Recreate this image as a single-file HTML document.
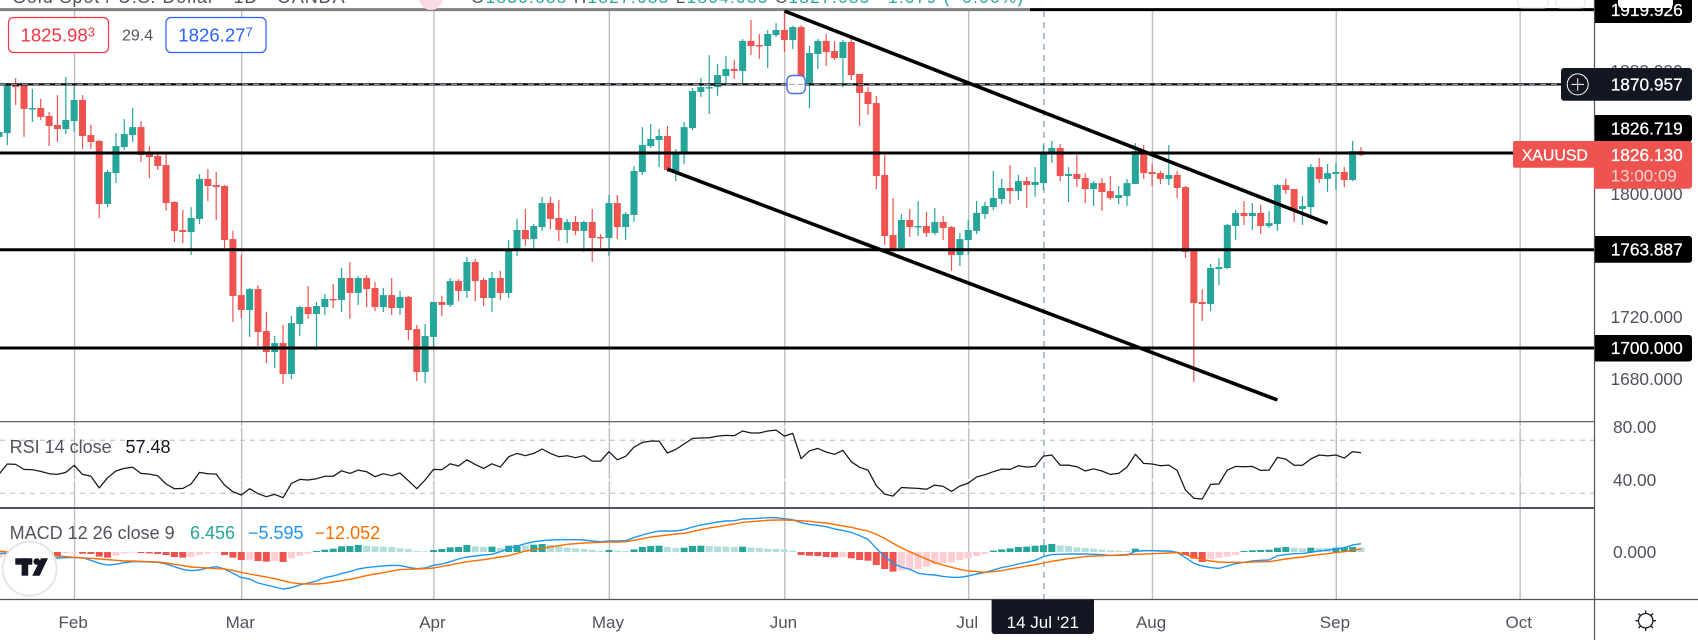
<!DOCTYPE html>
<html lang="en">
<head>
<meta charset="utf-8">
<title>XAUUSD Daily Chart</title>
<style>
html,body{margin:0;padding:0;background:#fff;width:1698px;height:640px;overflow:hidden}
svg{display:block;font-family:"Liberation Sans",sans-serif}
</style>
</head>
<body>
<svg id="chart" xmlns="http://www.w3.org/2000/svg" width="1698" height="640" viewBox="0 0 1698 640">
<rect x="0" y="0" width="1698" height="640" fill="#ffffff"/>
<g id="gridLayer"></g>
<g id="candleLayer"></g>
<g id="rsiLayer"></g>
<g id="macdLayer"></g>
<g id="drawLayer"></g>

<line x1="0" y1="421.7" x2="1594.5" y2="421.7" stroke="#50535e" stroke-width="1.2"/>
<line x1="0" y1="508" x2="1594.5" y2="508" stroke="#50535e" stroke-width="2"/>
<line x1="0" y1="599.5" x2="1698" y2="599.5" stroke="#50535e" stroke-width="1.2"/>
<line x1="1594.5" y1="0" x2="1594.5" y2="640" stroke="#50535e" stroke-width="1.2"/>

<g id="axisLayer"></g>

<text x="12" y="3" font-size="18" letter-spacing="0.9" fill="#50535e">Gold Spot / U.S. Dollar · 1D · OANDA</text>
<circle cx="431" cy="-2" r="12" fill="#fbdce0"/>
<text x="471" y="3" font-size="17" fill="#26a69a" textLength="552"><tspan fill="#50535e">O</tspan>1830.685 <tspan fill="#50535e">H</tspan>1827.085 <tspan fill="#50535e">L</tspan>1804.085 <tspan fill="#50535e">C</tspan>1827.085 −1.079 (−0.06%)</text>

<g>
  <rect x="8.5" y="17.5" width="100" height="35" rx="5" fill="#fff" stroke="#f23645" stroke-width="1.2"/>
  <text x="20.5" y="41.5" font-size="18.6" fill="#f23645">1825.98<tspan font-size="13" dy="-5">3</tspan></text>
</g>
<text x="122" y="40.5" font-size="16" fill="#50535e">29.4</text>
<g>
  <rect x="166" y="17.5" width="100" height="35" rx="5" fill="#fff" stroke="#2962ff" stroke-width="1.2"/>
  <text x="178.3" y="41.5" font-size="18.6" fill="#2962ff">1826.27<tspan font-size="13" dy="-5">7</tspan></text>
</g>

<text x="9.6" y="453" font-size="18" fill="#50535e">RSI 14 close</text>
<text x="125.5" y="453" font-size="18" fill="#131722">57.48</text>

<text x="9.6" y="539" font-size="18" fill="#50535e">MACD 12 26 close 9</text>
<text x="190" y="539" font-size="18" fill="#26a69a">6.456</text>
<text x="248" y="539" font-size="18" fill="#2196f3">−5.595</text>
<text x="314.6" y="539" font-size="18" fill="#ff6d00">−12.052</text>

<g>
  <circle cx="29.6" cy="568.7" r="27" fill="#ffffff" stroke="#e6e6e6" stroke-width="2"/>
  <rect x="15.3" y="558.3" width="17" height="6.4" fill="#131722"/>
  <rect x="21.6" y="558.3" width="6.6" height="17.4" fill="#131722"/>
  <circle cx="36.8" cy="561.6" r="3.3" fill="#131722"/>
  <polygon points="41,558.3 48,558.3 39.6,575.7 32.2,575.7" fill="#131722"/>
</g>

<g>
  <rect x="1518" y="-10" width="30" height="18" rx="4" fill="#fff" stroke="#e0e3eb"/>
  <rect x="1556" y="-10" width="29" height="18" rx="4" fill="#fff" stroke="#e0e3eb"/>
</g>

<g id="labelLayer"></g>

<g>
  <path d="M991.6 599.5H1094V631a3 3 0 0 1-3 3H994.6a3 3 0 0 1-3-3Z" fill="#131722"/>
  <text x="1042.8" y="628" font-size="17" fill="#ffffff" text-anchor="middle">14 Jul '21</text>
</g>

<g fill="none" stroke="#131722" stroke-width="1.3">
  <circle cx="1645.7" cy="620.7" r="7.2"/>
  <line x1="1645.7" y1="610.5" x2="1645.7" y2="613.5"/>
  <line x1="1645.7" y1="628" x2="1645.7" y2="631"/>
  <line x1="1635.5" y1="620.7" x2="1638.5" y2="620.7"/>
  <line x1="1653" y1="620.7" x2="1656" y2="620.7"/>
  <line x1="1638.5" y1="613.5" x2="1640.5" y2="615.5"/>
  <line x1="1651" y1="626" x2="1653" y2="628"/>
  <line x1="1653" y1="613.5" x2="1651" y2="615.5"/>
  <line x1="1640.5" y1="626" x2="1638.5" y2="628"/>
</g>
</svg>

<script>
const opens = [1837.2,1839.7,1871.6,1870.9,1855.4,1856.0,1850.8,1845.0,1842.3,1847.5,
1861.2,1838.4,1834.6,1793.6,1813.7,1830.6,1838.4,1843.6,1826.1,1824.8,
1818.9,1794.9,1776.7,1775.4,1783.9,1809.9,1805.9,1805.3,1770.8,1734.4,
1724.7,1738.3,1711.0,1697.4,1703.2,1683.1,1715.6,1726.6,1722.1,1726.6,
1731.9,1731.2,1745.5,1735.8,1745.5,1739.0,1726.6,1734.4,1726.0,1733.2,
1712.3,1684.4,1707.2,1729.9,1728.0,1743.5,1737.1,1755.9,1744.2,1732.5,
1745.5,1735.8,1763.1,1776.7,1770.8,1778.6,1794.2,1784.5,1776.7,1781.9,
1776.1,1781.9,1772.2,1771.5,1794.2,1778.6,1786.5,1814.4,1831.3,1835.2,
1837.8,1814.4,1826.1,1843.0,1866.4,1869.0,1869.6,1876.8,1881.4,1880.1,
1899.6,1896.9,1896.3,1903.4,1906.7,1900.2,1908.6,1872.2,1891.1,1899.6,
1893.0,1888.5,1898.9,1878.1,1866.4,1859.2,1812.5,1773.4,1765.0,1783.2,
1778.6,1779.3,1774.8,1781.9,1778.6,1760.4,1770.2,1776.1,1787.1,1791.6,
1796.9,1804.0,1802.0,1808.5,1805.9,1807.2,1826.7,1830.0,1811.8,1813.1,
1810.5,1803.3,1807.2,1802.0,1797.5,1798.8,1806.6,1828.0,1814.4,1813.7,
1809.9,1812.5,1804.6,1763.1,1729.9,1728.6,1751.3,1752.0,1779.3,1787.8,
1785.8,1787.8,1779.3,1780.6,1805.9,1803.3,1790.4,1791.6,1817.6,1809.9,
1813.1,1814.4,1809.2,1828.0];

const highs = [1845.0,1872.2,1875.5,1871.6,1868.4,1861.9,1853.4,1864.4,1876.2,1870.9,
1864.4,1845.0,1835.2,1815.7,1839.7,1848.8,1856.0,1847.5,1831.3,1827.4,
1826.7,1795.5,1789.7,1791.6,1813.1,1816.3,1814.4,1805.9,1776.1,1760.4,
1739.0,1740.9,1723.4,1707.8,1715.0,1720.8,1727.3,1740.3,1729.9,1735.1,
1741.6,1752.0,1755.9,1746.8,1747.4,1742.9,1739.0,1745.5,1737.1,1733.8,
1715.0,1715.6,1729.9,1733.8,1745.5,1744.8,1759.2,1757.9,1745.5,1749.4,
1750.1,1770.2,1783.9,1790.4,1780.6,1798.2,1798.2,1796.2,1783.9,1785.8,
1782.6,1790.4,1774.1,1799.4,1799.4,1788.4,1818.3,1843.6,1845.6,1842.3,
1844.3,1829.3,1846.9,1869.0,1875.5,1890.4,1884.6,1889.8,1887.2,1900.8,
1913.2,1904.1,1906.7,1911.2,1918.4,1909.3,1909.9,1896.3,1900.8,1904.1,
1899.6,1900.2,1900.8,1878.1,1869.6,1863.8,1825.4,1797.5,1787.1,1790.4,
1795.5,1788.4,1791.0,1785.8,1779.3,1774.8,1783.2,1795.5,1794.9,1815.1,
1809.9,1818.9,1812.5,1811.2,1817.6,1831.9,1834.6,1832.6,1817.6,1825.4,
1813.7,1808.5,1810.5,1811.8,1805.3,1809.9,1833.2,1831.9,1819.6,1815.1,
1831.9,1815.1,1805.3,1763.7,1738.3,1754.6,1758.5,1780.6,1789.7,1795.5,
1794.2,1793.0,1789.1,1806.6,1809.9,1803.3,1798.8,1819.6,1823.5,1819.6,
1820.3,1817.6,1834.6,1830.6];

const lows = [1831.9,1831.9,1858.0,1837.2,1846.9,1848.2,1831.3,1833.9,1839.1,1840.4,
1829.3,1829.3,1784.5,1791.6,1807.2,1828.7,1833.9,1820.9,1810.5,1815.7,
1789.1,1768.9,1768.2,1760.4,1780.6,1795.5,1783.2,1765.0,1716.9,1719.5,
1707.2,1701.3,1690.2,1687.0,1676.6,1679.8,1707.8,1718.9,1698.7,1721.4,
1726.0,1723.4,1718.9,1728.0,1726.6,1724.0,1723.4,1721.4,1721.4,1705.2,
1678.5,1677.2,1700.6,1720.8,1726.6,1730.5,1732.5,1730.5,1727.3,1723.4,
1731.2,1732.5,1759.8,1766.3,1764.3,1776.1,1777.3,1769.5,1768.2,1773.4,
1762.4,1755.9,1765.0,1759.8,1770.8,1770.2,1781.9,1812.5,1830.0,1817.6,
1814.4,1808.5,1819.6,1841.7,1863.2,1852.1,1863.8,1871.6,1874.9,1871.6,
1890.4,1887.9,1882.0,1902.2,1892.4,1894.4,1870.3,1856.0,1881.4,1883.3,
1887.2,1869.6,1874.2,1844.3,1851.5,1803.3,1767.0,1761.1,1763.7,1772.2,
1772.8,1772.2,1773.4,1770.2,1750.1,1753.3,1760.4,1774.1,1783.9,1789.7,
1793.6,1793.6,1796.2,1791.0,1798.2,1802.7,1820.3,1808.5,1794.9,1804.6,
1794.2,1792.3,1789.1,1796.2,1793.6,1792.3,1806.6,1809.9,1805.3,1806.6,
1805.9,1797.5,1758.5,1677.9,1717.6,1724.0,1740.9,1751.3,1770.2,1780.0,
1776.7,1774.1,1778.0,1776.1,1800.1,1781.9,1780.0,1786.5,1807.2,1801.4,
1802.7,1804.6,1808.5,1824.8];

const closes = [1840.4,1871.6,1869.6,1855.4,1856.0,1850.2,1844.3,1842.3,1848.2,1861.2,
1837.8,1833.9,1793.6,1814.4,1831.3,1839.1,1843.6,1825.4,1824.1,1818.3,
1794.2,1776.1,1775.4,1784.5,1809.9,1805.3,1804.6,1770.2,1733.8,1724.7,
1738.3,1710.4,1697.4,1703.2,1683.1,1716.2,1726.6,1722.1,1727.3,1731.9,
1731.2,1745.5,1735.8,1745.5,1738.3,1726.6,1734.4,1726.0,1733.2,1711.7,
1684.4,1707.8,1729.9,1728.0,1743.5,1737.1,1755.9,1743.5,1732.5,1745.5,
1735.8,1763.1,1776.7,1770.8,1779.3,1794.2,1783.9,1776.7,1781.9,1776.1,
1781.9,1771.5,1771.5,1794.2,1778.6,1787.1,1815.1,1831.9,1835.9,1837.8,
1815.7,1826.7,1843.6,1867.0,1869.6,1869.6,1877.4,1881.4,1880.1,1899.6,
1896.3,1896.3,1904.1,1906.7,1900.2,1908.6,1871.6,1891.7,1899.6,1892.4,
1888.5,1898.9,1877.4,1865.8,1858.6,1811.8,1772.8,1763.1,1783.2,1778.6,
1779.3,1774.8,1781.9,1778.0,1760.4,1770.8,1776.7,1787.8,1792.3,1797.5,
1804.0,1802.0,1808.5,1805.9,1807.9,1827.4,1830.0,1811.8,1813.1,1809.9,
1803.3,1807.2,1801.4,1797.5,1799.4,1807.2,1828.0,1813.7,1813.1,1809.9,
1812.5,1804.0,1762.4,1729.2,1728.6,1752.0,1752.6,1780.0,1787.8,1785.8,
1787.8,1779.3,1781.2,1805.9,1802.7,1789.7,1792.3,1817.6,1809.9,1813.7,
1814.4,1809.2,1828.0,1825.4];

const rsiValues = [44.3,52.1,51.8,48.0,47.8,46.5,44.8,44.3,45.8,51.1,
44.3,43.0,34.0,41.8,46.8,48.8,49.6,45.0,44.5,43.3,
37.0,33.5,33.7,37.0,45.8,44.8,44.5,36.2,31.2,28.7,
33.5,29.7,27.4,29.2,26.7,37.5,40.5,40.0,41.0,42.8,
42.8,47.0,45.0,47.5,46.3,42.5,44.8,43.3,45.3,39.5,
33.5,40.0,48.0,47.8,52.3,50.6,55.3,51.8,48.8,52.3,
49.8,57.6,60.1,58.4,60.1,63.4,60.1,57.6,58.4,56.9,
58.4,54.3,54.3,61.4,55.3,57.9,64.9,68.4,69.4,69.4,
60.4,63.1,67.2,71.4,71.7,71.9,73.2,73.7,73.5,77.0,
75.5,75.5,77.0,77.7,73.2,75.2,56.1,62.1,63.9,61.1,
59.4,62.4,53.8,49.6,47.5,35.7,29.4,27.9,34.4,34.0,
33.7,33.0,36.2,35.2,31.4,35.5,37.7,42.3,44.0,46.3,
48.3,48.0,50.8,49.8,50.3,58.1,58.9,51.1,51.3,50.1,
46.8,48.5,46.8,44.3,45.0,49.8,59.4,52.6,52.1,50.8,
51.3,47.3,32.4,26.2,25.7,36.7,37.0,47.5,50.3,50.1,
50.3,47.3,47.5,57.1,55.8,51.1,51.1,55.9,58.9,58.2,
58.9,56.6,61.5,60.6];

const macdLine = [-1.3,-1.3,-1.9,-3.2,-4.4,-5.4,-6.0,-5.7,-5.4,-5.1,
-5.4,-7.9,-10.8,-12.4,-11.7,-10.2,-9.2,-9.2,-9.5,-9.8,
-11.4,-14.0,-16.5,-17.8,-17.1,-15.2,-14.0,-16.2,-20.3,-24.4,
-25.7,-29.5,-31.4,-33.3,-35.2,-34.0,-31.4,-29.5,-27.6,-24.4,
-22.9,-20.6,-18.7,-16.2,-14.9,-14.0,-13.3,-12.7,-13.0,-14.6,
-15.9,-15.2,-12.7,-11.4,-9.2,-6.7,-4.8,-3.8,-2.9,-2.2,
0.3,3.2,5.7,7.9,9.8,10.8,11.4,11.7,11.7,11.7,
11.4,10.5,9.8,10.5,10.5,10.8,13.7,16.2,18.4,20.0,
20.0,20.0,21.3,23.8,25.7,27.0,28.6,29.5,29.8,31.4,
31.7,32.1,32.7,32.7,31.7,30.8,27.9,26.3,25.4,24.1,
21.9,20.6,18.7,15.6,12.1,3.5,-4.4,-10.8,-14.3,-16.5,
-20.3,-21.3,-21.9,-23.2,-24.1,-24.1,-22.9,-21.0,-19.4,-17.1,
-14.9,-13.3,-11.4,-9.8,-7.9,-4.4,-2.5,-2.2,-1.9,-1.9,
-1.9,-2.2,-2.5,-3.2,-3.2,-2.9,0.6,1.3,1.3,1.0,
1.0,-0.3,-5.4,-10.8,-13.3,-14.9,-15.6,-13.3,-11.1,-9.8,
-8.6,-7.9,-7.6,-3.5,-2.5,-1.6,-1.3,-0.3,1.0,1.9,
2.9,4.1,6.7,7.9];

const signalLine = [1.0,0,-0.6,-1.3,-1.9,-2.5,-3.2,-3.8,-4.4,-5.1,
-5.7,-6.0,-6.7,-7.3,-7.9,-8.6,-8.6,-8.9,-9.2,-9.5,
-10.5,-11.7,-13.0,-14.3,-14.9,-15.2,-15.9,-16.2,-17.5,-19.4,
-21.0,-22.5,-23.8,-25.4,-27.3,-29.2,-30.2,-30.5,-30.5,-29.8,
-28.6,-27.3,-26.0,-24.4,-22.5,-21.0,-19.7,-18.1,-16.8,-16.5,
-16.2,-15.9,-15.2,-13.7,-12.4,-10.8,-9.2,-8.3,-7.3,-6.0,
-4.8,-3.5,-1.3,1.0,2.2,3.5,4.8,6.0,7.3,7.9,
8.6,8.9,9.2,9.5,9.5,9.8,11.1,12.7,14.3,15.2,
16.2,17.1,17.8,19.4,21.3,22.9,24.1,25.4,26.7,28.3,
28.9,29.5,30.2,30.5,30.5,30.2,29.8,29.2,28.3,27.6,
26.3,24.8,23.5,21.6,20.0,16.8,13.0,8.3,4.1,0.3,
-3.2,-6.7,-10.2,-12.4,-14.6,-16.5,-18.1,-18.7,-19.4,-18.7,
-17.8,-16.2,-14.9,-13.3,-12.1,-10.5,-8.9,-7.6,-6.3,-5.4,
-4.4,-3.8,-3.5,-3.2,-2.9,-2.5,-2.2,-1.9,-1.6,-1.3,
-1.0,-0.6,-2.5,-5.1,-7.0,-8.6,-9.5,-9.8,-9.8,-9.8,
-9.5,-9.2,-9.2,-7.9,-6.7,-5.7,-4.8,-3.5,-2.5,-1.6,
-0.6,0.3,1.6,2.9];

const histValues = [-5.4,-4.8,-4.1,-2.9,-2.2,-1.3,-2.9,-3.5,-1.3,-0.6,
-1.6,-1.9,-4.4,-5.4,-3.5,-1.3,-0.6,-1.0,-1.3,-1.9,
-2.9,-4.8,-5.4,-4.8,-2.9,-1.6,-0.6,-2.9,-5.4,-7.6,
-7.3,-8.6,-9.2,-8.6,-9.5,-6.0,-3.5,-1.6,1.0,2.2,
3.2,5.4,5.7,6.7,6.0,5.4,5.1,4.8,3.5,2.9,
1.0,0.6,1.9,2.9,4.4,4.8,6.7,5.4,4.8,5.1,
4.1,6.0,6.7,6.3,7.0,7.6,6.7,5.4,4.1,3.5,
2.9,1.9,1.0,1.9,1.3,1.0,2.5,4.8,5.7,6.0,
4.8,3.8,4.1,5.7,6.0,5.7,5.4,5.1,4.8,5.1,
4.4,3.8,3.2,2.9,2.5,1.3,-2.9,-3.5,-3.8,-4.8,
-5.1,-4.8,-6.0,-7.6,-8.3,-12.4,-16.2,-18.7,-17.5,-16.5,
-16.2,-14.0,-11.7,-10.8,-9.8,-7.9,-6.3,-3.8,-1.9,1.3,
2.5,3.5,4.8,5.1,6.0,6.5,7.6,6.3,5.7,4.4,
3.8,3.2,2.2,1.6,1.3,1.0,3.2,1.9,1.6,1.3,
1.0,-0.6,-2.9,-6.3,-9.5,-6.7,-5.4,-4.4,-2.9,1.0,
1.6,1.9,2.2,4.1,4.8,4.1,3.5,4.1,3.8,3.5,
4.1,4.4,4.8,4.1];

const monthLabels = ["Feb","Mar","Apr","May","Jun","Jul","Aug","Sep","Oct"];
const monthBars = [9,29,52,73,94,116,138,160,182];
const priceTicks = [1880,1840,1800,1760,1720,1680];
const rsiTicks = [80,40];
const rsiBands = [70,30];
const macdTicks = [0];
const crosshairBar = 125;
const upperChannelBars = [94,159];
const upperChannelPrices = [1919.05,1781.0];
const lowerChannelBars = [80,153];
const lowerChannelPrices = [1816.3,1666.2];

const NS = "http://www.w3.org/2000/svg";
function xScale(i){ return -1.05 + 8.356 * i; }
function priceY(p){ return (1926.2 - p) / 0.65; }
function rsiY(v){ return 533.05 - 1.325 * v; }
function macdY(v){ return 552 - 1.05 * v; }

function make(tag, attrs, parent){
  const el = document.createElementNS(NS, tag);
  for (const k in attrs) el.setAttribute(k, attrs[k]);
  parent.appendChild(el);
  return el;
}
const gridLayer = document.getElementById("gridLayer");
const candleLayer = document.getElementById("candleLayer");
const rsiLayer = document.getElementById("rsiLayer");
const macdLayer = document.getElementById("macdLayer");
const drawLayer = document.getElementById("drawLayer");
const axisLayer = document.getElementById("axisLayer");
const labelLayer = document.getElementById("labelLayer");

/* horizontal white grid lines */
priceTicks.forEach(function(p){
  const el = make("line", {x1:0, x2:1594, y1:priceY(p), y2:priceY(p), stroke:"#ffffff", "stroke-width":1.5}, gridLayer);
  
  
});

/* vertical month grid lines */
monthBars.forEach(function(b){
  const gx = xScale(b) + 0.4;
  const el = make("line", {x1:gx, x2:gx, y1:11, y2:599, stroke:"#bdbdc7", "stroke-width":1.4}, gridLayer);
  
  
});
rsiTicks.forEach(function(v){
  const el = make("line", {x1:0, x2:1594, y1:rsiY(v), y2:rsiY(v), stroke:"#ffffff", "stroke-width":1.5}, gridLayer);
  
  
});

/* crosshair vertical */
const crossX = xScale(crosshairBar) + 0.4;
const crossEl = make("line", {x1:crossX, x2:crossX, y1:11, y2:599, stroke:"#9fb0c3", "stroke-width":1.6, "stroke-dasharray":"6 5"}, gridLayer);



/* candles */
opens.forEach(function(o, i){
  const c = closes[i];
  const up = c >= o;
  const col = up ? "#26a69a" : "#ef5350";
  const cx = xScale(i);
  const wick = make("line", {x1:cx, x2:cx, y1:priceY(highs[i]), y2:priceY(lows[i]), stroke:col, "stroke-width":1.2}, candleLayer);
  
  
  const top = priceY(Math.max(o, c));
  const bot = priceY(Math.min(o, c));
  const body = make("rect", {x:cx - 3.5, y:top, width:7, height:Math.max(bot - top, 1.5), fill:col}, candleLayer);
  
  
});

/* RSI */
rsiBands.forEach(function(v){
  const el = make("line", {x1:0, x2:1594, y1:rsiY(v), y2:rsiY(v), stroke:"#b8b8b8", "stroke-width":1, "stroke-dasharray":"5 5"}, rsiLayer);
  
  
});
const rsiPts = rsiValues.map(function(v, i){ return xScale(i).toFixed(1) + "," + rsiY(v).toFixed(1); }).join(" ");
const rsiPath = make("polyline", {points:rsiPts, fill:"none", stroke:"#131722", "stroke-width":1.25, "stroke-linejoin":"round"}, rsiLayer);



/* MACD */
histValues.forEach(function(v, i){
  const prev = i > 0 ? histValues[i - 1] : v;
  let col;
  if (v >= 0) { col = (i > 0 && v >= prev) ? "#26a69a" : "#b2dfdb"; }
  else { col = (i > 0 && v < prev) ? "#ef5350" : "#ffcdd2"; }
  const y0 = macdY(0);
  const y1 = macdY(v);
  const bar = make("rect", {x:xScale(i) - 3.5, y:Math.min(y0, y1), width:7, height:Math.abs(y1 - y0), fill:col}, macdLayer);
  
  
});
const macdPts = macdLine.map(function(v, i){ return xScale(i).toFixed(1) + "," + macdY(v).toFixed(1); }).join(" ");
const macdPath = make("polyline", {points:macdPts, fill:"none", stroke:"#2196f3", "stroke-width":1.4, "stroke-linejoin":"round"}, macdLayer);


const signalPts = signalLine.map(function(v, i){ return xScale(i).toFixed(1) + "," + macdY(v).toFixed(1); }).join(" ");
const signalPath = make("polyline", {points:signalPts, fill:"none", stroke:"#ff6d00", "stroke-width":1.4, "stroke-linejoin":"round"}, macdLayer);



/* drawn horizontal levels */
const topGray = make("line", {x1:0, x2:1030, y1:priceY(1919.926), y2:priceY(1919.926), stroke:"#808080", "stroke-width":3}, drawLayer);


const topBlack = make("line", {x1:1030, x2:1594, y1:priceY(1919.926), y2:priceY(1919.926), stroke:"#000000", "stroke-width":3}, drawLayer);


const lvl1870 = make("line", {x1:0, x2:1561, y1:84.4, y2:84.4, stroke:"#000000", "stroke-width":2.2}, drawLayer);


const dash1870 = make("line", {x1:0, x2:1561, y1:84.4, y2:84.4, stroke:"#8fa3b8", "stroke-width":1, "stroke-dasharray":"6 5"}, drawLayer);


const lvl1826 = make("line", {x1:0, x2:1513, y1:priceY(1826.719), y2:priceY(1826.719), stroke:"#000000", "stroke-width":3}, drawLayer);


const lvl1763 = make("line", {x1:0, x2:1594, y1:priceY(1763.887), y2:priceY(1763.887), stroke:"#000000", "stroke-width":3}, drawLayer);


const lvl1700 = make("line", {x1:0, x2:1594, y1:priceY(1700), y2:priceY(1700), stroke:"#000000", "stroke-width":3}, drawLayer);



/* channel trend lines */
const upperTrend = make("line", {x1:xScale(upperChannelBars[0]), y1:priceY(upperChannelPrices[0]), x2:xScale(upperChannelBars[1]), y2:priceY(upperChannelPrices[1]), stroke:"#000000", "stroke-width":3.6}, drawLayer);


const lowerTrend = make("line", {x1:xScale(lowerChannelBars[0]), y1:priceY(lowerChannelPrices[0]), x2:xScale(lowerChannelBars[1]), y2:priceY(lowerChannelPrices[1]), stroke:"#000000", "stroke-width":3.6}, drawLayer);



/* order handle */
const handle = make("rect", {x:787, y:75.5, width:18.2, height:18, rx:5, fill:"#ffffff", stroke:"#4a6fe3", "stroke-width":1.4}, drawLayer);


const handleDash = make("line", {x1:789, x2:803.5, y1:84.4, y2:84.4, stroke:"#8fa3b8", "stroke-width":1, "stroke-dasharray":"6 3"}, drawLayer);



/* axis tick labels */
priceTicks.forEach(function(p){
  const t = make("text", {x:1610.5, y:priceY(p) + 6, "font-size":17.3, fill:"#50535e"}, axisLayer);
  
  
  t.textContent = p.toFixed(3);
});
rsiTicks.forEach(function(v){
  const t = make("text", {x:1613, y:rsiY(v) + 6, "font-size":17.3, fill:"#50535e"}, axisLayer);
  
  
  t.textContent = v.toFixed(2);
});
macdTicks.forEach(function(v){
  const t = make("text", {x:1613, y:macdY(v) + 6, "font-size":17.3, fill:"#50535e"}, axisLayer);
  
  
  t.textContent = v.toFixed(3);
});
monthLabels.forEach(function(m, i){
  const t = make("text", {x:xScale(monthBars[i]) - 1, y:628, "font-size":17, fill:"#50535e", "text-anchor":"middle"}, axisLayer);
  
  
  t.textContent = m;
});

/* price-axis label boxes */
function labelBox(parent, x, y, w, h, fill){
  return make("path", {d:"M"+x+" "+y+"H"+(x+w-3)+"a3 3 0 0 1 3 3V"+(y+h-3)+"a3 3 0 0 1-3 3H"+x+"Z", fill:fill}, parent);
}
function labelText(parent, x, y, txt, fill, size){
  const t = make("text", {x:x, y:y, "font-size":size || 17.3, fill:fill, stroke:fill, "stroke-width":0.25}, parent);
  t.textContent = txt;
  return t;
}
const box1919 = labelBox(labelLayer, 1595, -3, 97, 26, "#000000");


const text1919 = labelText(labelLayer, 1610.7, 16, "1919.926", "#ffffff");


const axisBtn = make("rect", {x:1618, y:-10, width:55, height:18, rx:4, fill:"#ffffff"}, labelLayer);



const box1870 = make("rect", {x:1561, y:68, width:131, height:32.7, rx:3, fill:"#131722"}, labelLayer);


const plusRing = make("circle", {cx:1577.7, cy:84.4, r:10.5, fill:"none", stroke:"#ffffff", "stroke-width":1}, labelLayer);


const plusH = make("line", {x1:1571.5, x2:1584, y1:84.4, y2:84.4, stroke:"#ffffff", "stroke-width":1}, labelLayer);


const plusV = make("line", {x1:1577.7, x2:1577.7, y1:78.2, y2:90.6, stroke:"#ffffff", "stroke-width":1}, labelLayer);


const text1870 = labelText(labelLayer, 1610.7, 90.5, "1870.957", "#ffffff");



const box1826 = labelBox(labelLayer, 1595, 115, 97, 26.7, "#000000");


const text1826 = labelText(labelLayer, 1610.7, 134.3, "1826.719", "#ffffff");



const boxSym = make("rect", {x:1513, y:141, width:82, height:26.7, rx:2, fill:"#ef5350"}, labelLayer);


const textSym = labelText(labelLayer, 1521.7, 160.5, "XAUUSD", "#ffffff", 15.9);


const boxLast = labelBox(labelLayer, 1594, 141, 98, 47.7, "#ef5350");


const textLast = labelText(labelLayer, 1610.7, 161, "1826.130", "#ffffff");


const textCountdown = make("text", {x:1610.7, y:181.5, "font-size":17, fill:"#fcd0d0"}, labelLayer);
textCountdown.textContent = "13:00:09";



const box1763 = labelBox(labelLayer, 1595, 236, 97, 26.7, "#000000");


const text1763 = labelText(labelLayer, 1610.7, 255.5, "1763.887", "#ffffff");



const box1700 = labelBox(labelLayer, 1595, 335, 97, 26.5, "#000000");


const text1700 = labelText(labelLayer, 1610.7, 354, "1700.000", "#ffffff");


</script>
</body>
</html>
